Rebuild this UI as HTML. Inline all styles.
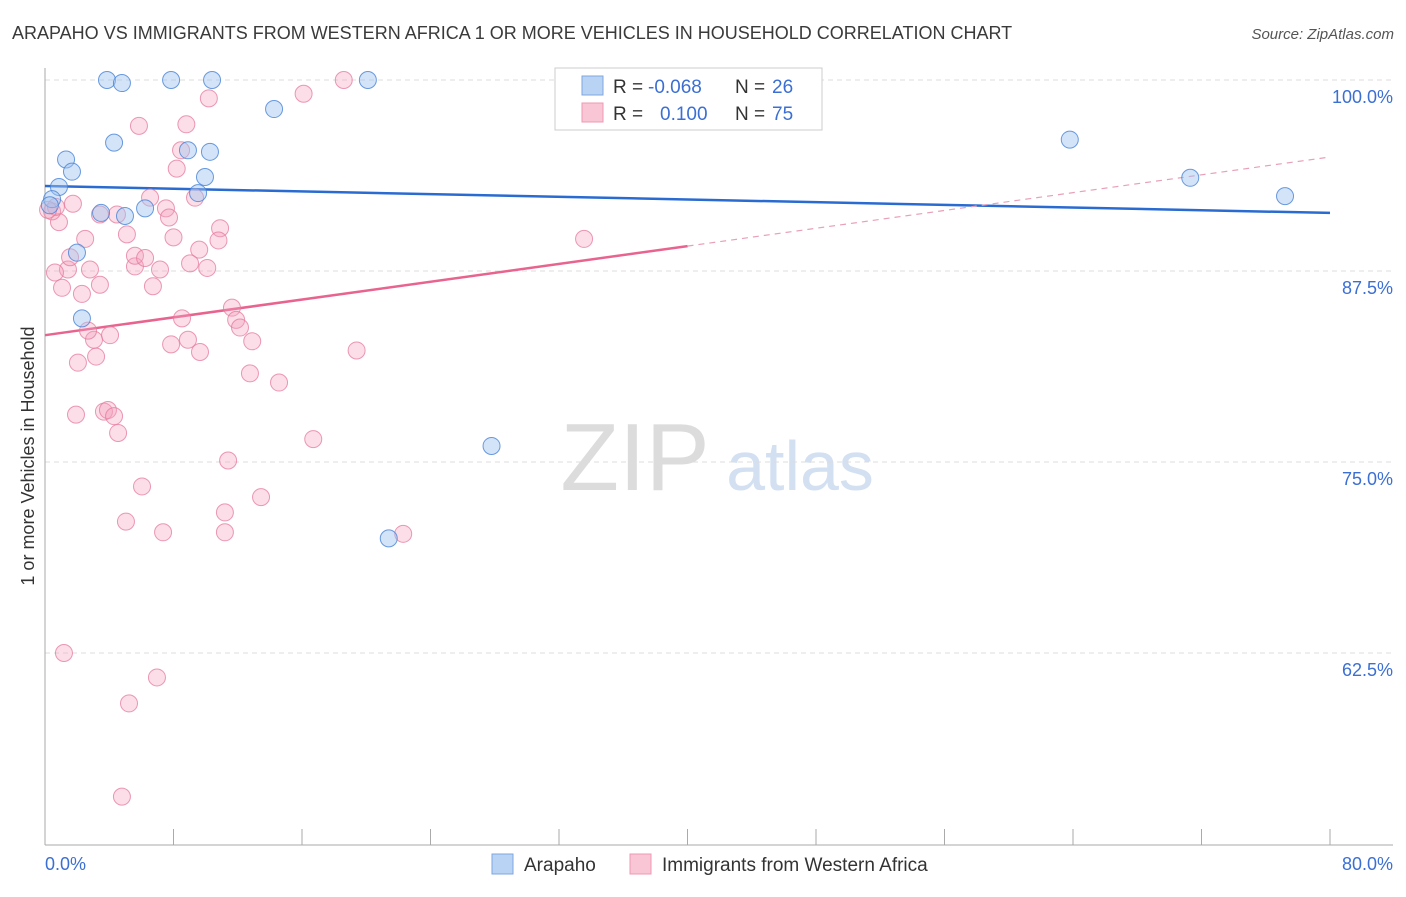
<!DOCTYPE html>
<html><head><meta charset="utf-8"><style>
body{margin:0;background:#fff;font-family:"Liberation Sans",sans-serif;}
svg text{font-family:"Liberation Sans",sans-serif;}
</style></head><body>
<svg id="chart" width="1406" height="892" xmlns="http://www.w3.org/2000/svg">
<text x="12" y="39" font-size="18" fill="#3a3a3a">ARAPAHO VS IMMIGRANTS FROM WESTERN AFRICA 1 OR MORE VEHICLES IN HOUSEHOLD CORRELATION CHART</text>
<text x="1394" y="39" font-size="15" fill="#555" text-anchor="end" font-style="italic">Source: ZipAtlas.com</text>
<g>
<text x="635" y="490" font-size="96" fill="#dcdcdc" text-anchor="middle" font-family="Liberation Serif">ZIP</text>
<text x="800" y="490" font-size="70" fill="#d3e0f2" text-anchor="middle">atlas</text>
</g>
<g id="grid"></g>
<g id="axes"></g>
<g id="lines"></g>
<g id="pts"></g>
<text transform="translate(34,456) rotate(-90)" font-size="18" fill="#333" text-anchor="middle">1 or more Vehicles in Household</text>
<text x="45" y="870" font-size="18" fill="#3b6fd4">0.0%</text>
<text x="1393" y="870" font-size="18" fill="#3b6fd4" text-anchor="end">80.0%</text>
<g>
<rect x="555" y="68" width="267" height="62" fill="#fff" stroke="#ccc"/>
<rect x="582" y="76" width="21" height="19" fill="#b9d3f5" stroke="#7fa6e0"/>
<rect x="582" y="103" width="21" height="19" fill="#f9c6d5" stroke="#ee98b3"/>
<text x="613" y="93" font-size="19" fill="#333">R =</text>
<text x="648" y="93" font-size="19" fill="#3b6fd4">-0.068</text>
<text x="735" y="93" font-size="19" fill="#333">N =</text>
<text x="772" y="93" font-size="19" fill="#3b6fd4">26</text>
<text x="613" y="120" font-size="19" fill="#333">R =</text>
<text x="660" y="120" font-size="19" fill="#3b6fd4">0.100</text>
<text x="735" y="120" font-size="19" fill="#333">N =</text>
<text x="772" y="120" font-size="19" fill="#3b6fd4">75</text>
</g>
<g>
<rect x="492" y="854" width="21" height="20" fill="#b9d3f5" stroke="#7fa6e0"/>
<text x="524" y="871" font-size="19" fill="#333">Arapaho</text>
<rect x="630" y="854" width="21" height="20" fill="#f9c6d5" stroke="#ee98b3"/>
<text x="662" y="871" font-size="19" fill="#333">Immigrants from Western Africa</text>
</g>
</svg>
<script>
const yTicks=[100,87.5,75,62.5];
const yTickLabels=["100.0%","87.5%","75.0%","62.5%"];
const blueX=[3.86,4.79,7.85,10.4,20.1,14.26,4.3,1.31,1.68,0.87,0.44,3.49,4.98,6.23,8.9,10.27,9.96,9.53,1.99,2.3,27.8,21.4,63.8,71.3,77.2,0.3];
const blueY=[100,99.8,100,100,100,98.1,95.9,94.8,94.0,93.0,92.2,91.3,91.1,91.6,95.4,95.3,93.65,92.6,88.7,84.4,76.05,70.0,96.1,93.6,92.4,91.8];
const pinkX=[18.6,16.1,10.2,5.85,8.8,8.47,8.2,6.54,9.34,7.53,7.72,10.9,10.8,9.6,8.0,5.1,2.5,1.74,0.87,0.44,0.68,0.19,4.48,3.42,9.03,10.1,7.16,5.6,5.6,6.23,6.72,2.8,1.43,0.62,1.06,3.42,2.3,11.64,11.9,12.14,8.53,7.85,8.9,9.65,12.9,3.05,2.68,4.05,3.18,2.05,12.76,14.57,19.4,16.7,1.93,3.67,3.92,4.3,4.55,6.04,11.4,13.45,5.04,11.2,11.2,7.35,22.3,33.56,1.18,6.97,5.23,4.79,1.56];
const pinkY=[100,99.1,98.8,97.0,97.1,95.4,94.2,92.3,92.3,91.6,91.0,90.3,89.5,88.9,89.7,89.9,89.6,91.9,90.7,91.4,91.7,91.5,91.2,91.2,88.0,87.7,87.6,87.8,88.5,88.35,86.5,87.6,87.6,87.4,86.4,86.6,86.0,85.1,84.3,83.8,84.4,82.7,83.0,82.2,82.9,83.0,83.6,83.3,81.9,81.5,80.8,80.2,82.3,76.5,78.1,78.3,78.4,78.0,76.9,73.4,75.1,72.7,71.1,71.7,70.4,70.4,70.3,89.6,62.5,60.9,59.2,53.1,88.4];
const blueTrend=[93.06,91.3];   // y at x=0 and x=80
const pinkTrend=[83.3,94.96];   // y at x=0 and x=80
const pinkSolidEnd=40;
const NS="http://www.w3.org/2000/svg";
const X=p=>45+p*(1285/80);
const Y=v=>80+(100-v)*(191/12.5);
function mk(tag,attrs,parent){const e=document.createElementNS(NS,tag);for(const k in attrs)e.setAttribute(k,attrs[k]);parent.appendChild(e);return e;}
const grid=document.getElementById('grid'),axes=document.getElementById('axes'),lines=document.getElementById('lines'),pts=document.getElementById('pts');
yTicks.forEach((t,i)=>{
 const l=mk('line',{x1:45,x2:1393,y1:Y(t),y2:Y(t),stroke:'#ddd','stroke-dasharray':'5,4'},grid);
 
 
 const tx=mk('text',{x:1393,y:Y(t)+23,'font-size':18,fill:'#3b6fd4','text-anchor':'end'},grid);
 tx.textContent=yTickLabels[i];
 
 
});
const ya=mk('line',{x1:45,x2:45,y1:68,y2:845,stroke:'#aaa'},axes);


const xa=mk('line',{x1:45,x2:1393,y1:845,y2:845,stroke:'#aaa'},axes);


for(let k=0;k<=10;k++){
 const t=mk('line',{x1:X(k*8),x2:X(k*8),y1:829,y2:845,stroke:'#aaa'},axes);
 
 
}
function yAt(tr,x){return tr[0]+(tr[1]-tr[0])*x/80;}
const bl=mk('line',{x1:X(0),y1:Y(yAt(blueTrend,0)),x2:X(80),y2:Y(yAt(blueTrend,80)),stroke:'#2a6bd1','stroke-width':2.5},lines);


const pl=mk('line',{x1:X(0),y1:Y(yAt(pinkTrend,0)),x2:X(pinkSolidEnd),y2:Y(yAt(pinkTrend,pinkSolidEnd)),stroke:'#e8648f','stroke-width':2.5},lines);


const pd=mk('line',{x1:X(pinkSolidEnd),y1:Y(yAt(pinkTrend,pinkSolidEnd)),x2:X(80),y2:Y(yAt(pinkTrend,80)),stroke:'#e8a0b8','stroke-width':1.2,'stroke-dasharray':'6,5'},lines);


pinkX.forEach((x,i)=>{
 const c=mk('circle',{cx:X(x),cy:Y(pinkY[i]),r:8.5,fill:'rgba(244,160,188,0.35)',stroke:'rgba(230,120,155,0.75)','stroke-width':1},pts);
 
 
});
blueX.forEach((x,i)=>{
 const c=mk('circle',{cx:X(x),cy:Y(blueY[i]),r:8.5,fill:'rgba(160,196,240,0.45)',stroke:'rgba(70,130,215,0.8)','stroke-width':1},pts);
 
 
});
</script>
</body></html>
